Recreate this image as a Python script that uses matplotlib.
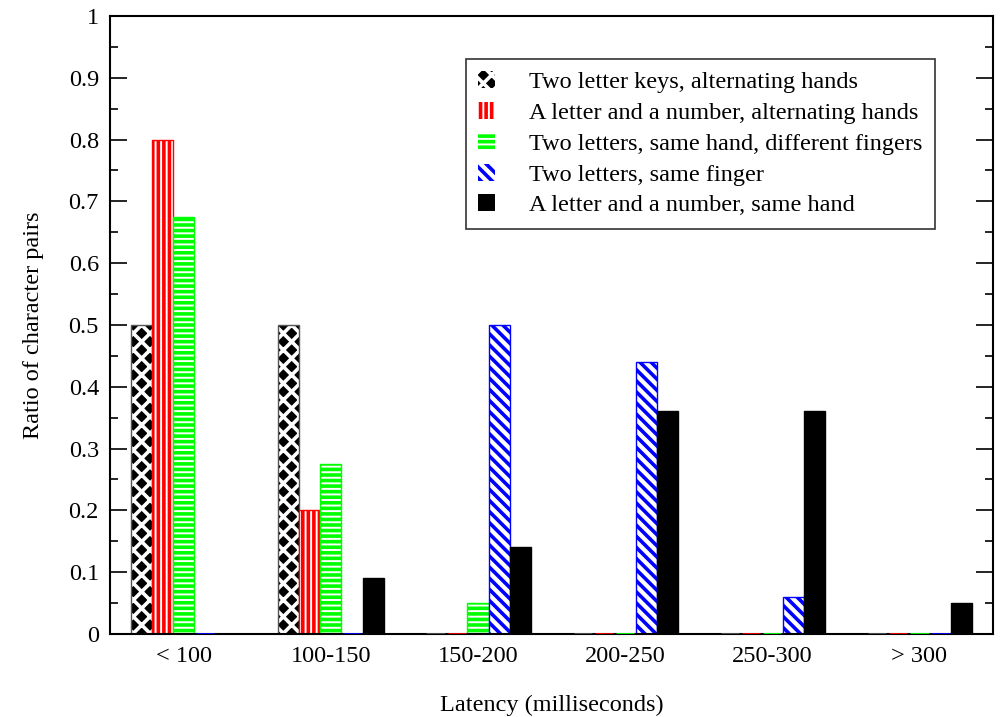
import numpy as np
import matplotlib
matplotlib.use("Agg")
import matplotlib.pyplot as plt
from matplotlib.patches import Patch
from matplotlib.ticker import MultipleLocator

plt.rcParams["font.family"] = ["Liberation Serif", "DejaVu Serif"]
plt.rcParams["hatch.linewidth"] = 2.6

categories = ["< 100", "100-150", "150-200", "200-250", "250-300", "> 300"]
series_names = [
    "Two letter keys, alternating hands",
    "A letter and a number, alternating hands",
    "Two letters, same hand, different fingers",
    "Two letters, same finger",
    "A letter and a number, same hand",
]
two_letter_alt = [0.5, 0.5, 0.0, 0.0, 0.0, 0.0]
letter_number_alt = [0.8, 0.2, 0.0, 0.0, 0.0, 0.0]
same_hand_diff_finger = [0.675, 0.275, 0.05, 0.0, 0.0, 0.0]
same_finger = [0.0, 0.0, 0.5, 0.44, 0.06, 0.0]
letter_number_same = [0.0, 0.09, 0.14, 0.36, 0.36, 0.05]

series = [two_letter_alt, letter_number_alt, same_hand_diff_finger,
          same_finger, letter_number_same]

# face, hatch colour, hatch, outline
styles = [
    ("black", "white", "xx", "#555555"),
    ("white", "red", "|||", "red"),
    ("white", "#00ff00", "---", "#00ff00"),
    ("white", "blue", "\\\\\\", "blue"),
    ("black", "black", None, "black"),
]

fig = plt.figure(figsize=(10.03, 7.17), dpi=100)
ax = fig.add_axes([0.1097, 0.1158, 0.8803, 0.8619])

x = np.arange(len(categories))
w = 0.144
handles = []
for i, (vals, name, st) in enumerate(zip(series, series_names, styles)):
    face, hcol, hatch, edge = st
    pos = x + (i - 2) * w
    vals = np.array(vals)
    ax.bar(pos, vals, w, color=face, edgecolor=hcol, hatch=hatch, linewidth=0)
    ax.bar(pos, vals, w, fill=False, edgecolor=edge, linewidth=1.0)
    # empty bars still show as a thin coloured line on the baseline
    z = vals == 0
    ax.hlines(vals[z], pos[z] - w / 2 + 0.01, pos[z] + w / 2 - 0.01,
              colors=edge, linewidth=2.0, zorder=3)
    handles.append(Patch(facecolor=face, edgecolor=hcol, hatch=hatch, linewidth=0))

ax.set_xlim(-0.5, 5.5)
ax.set_ylim(0, 1)
ax.set_xticks(x)
ax.set_xticklabels(categories, fontsize=17.5)
ax.tick_params(axis="x", length=0, pad=9)
ax.yaxis.set_major_locator(MultipleLocator(0.1))
ax.yaxis.set_minor_locator(MultipleLocator(0.05))
ax.set_yticks([0, 0.1, 0.2, 0.3, 0.4, 0.5, 0.6, 0.7, 0.8, 0.9, 1])
ax.set_yticklabels(["0", "0.1", "0.2", "0.3", "0.4", "0.5", "0.6", "0.7", "0.8", "0.9", "1"])
ax.tick_params(axis="y", which="major", direction="in", length=12, width=1.2,
               right=True, labelsize=17.5, pad=8)
ax.tick_params(axis="y", which="minor", direction="in", length=6, width=1.2, right=True)
for s in ax.spines.values():
    s.set_linewidth(1.5)

ax.set_xlabel("Latency (milliseconds)", fontsize=17.5, labelpad=20)
ax.set_ylabel("Ratio of character pairs", fontsize=17.5, labelpad=18)

leg = ax.legend(handles, series_names, loc="upper right", bbox_to_anchor=(0.934, 0.93),
                fontsize=17.5, frameon=True, fancybox=False, edgecolor="black",
                handlelength=0.7, handleheight=0.7, handletextpad=1.4,
                labelspacing=0.36, borderpad=0.5, borderaxespad=0)
leg.get_frame().set_linewidth(1.2)

fig.savefig("out.png", dpi=100)
